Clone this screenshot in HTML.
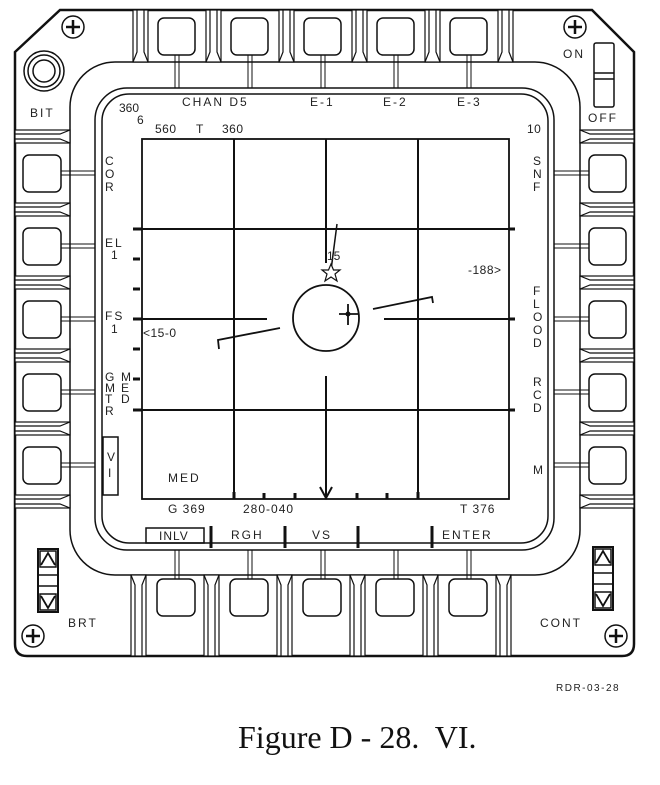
<!DOCTYPE html>
<html><head><meta charset="utf-8"><style>
html,body{margin:0;padding:0;background:#fff;}
svg{display:block;}
text{font-family:"Liberation Sans",sans-serif;fill:#222;}
.l{font-size:12px;letter-spacing:2px;}
</style></head><body>
<svg width="660" height="785" viewBox="0 0 660 785" xmlns="http://www.w3.org/2000/svg">
<g fill="none" stroke="#111" stroke-width="1.5">
<path d="M60 10 L592 10 L634 52 L634 644 Q634 656 622 656 L27 656 Q15 656 15 644 L15 52 Z" stroke-width="2.5"/>
<rect x="70" y="62" width="510" height="513" rx="45"/>
<rect x="95" y="88" width="459" height="462" rx="32"/>
<rect x="102" y="94" width="446" height="449" rx="27"/>
</g>
<g fill="#fff" stroke="#111" stroke-width="1.2">
<g id="vb">
<rect x="133" y="10" width="15" height="52"/>
<path d="M137 10 L137 52 L133 62 M144 10 L144 52 L148 62" fill="none"/>
</g>
<use href="#vb" x="73"/><use href="#vb" x="146"/><use href="#vb" x="219"/><use href="#vb" x="292"/><use href="#vb" x="365"/>
<g id="vbb">
<rect x="131" y="575" width="15" height="81"/>
<path d="M135 656 L135 585 L131 575 M142 656 L142 585 L146 575" fill="none"/>
</g>
<use href="#vbb" x="73"/><use href="#vbb" x="146"/><use href="#vbb" x="219"/><use href="#vbb" x="292"/><use href="#vbb" x="365"/>
<g id="hb">
<rect x="15" y="130" width="55" height="13"/>
<path d="M15 134 L60 134 L70 130 M15 139 L60 139 L70 143" fill="none"/>
</g>
<use href="#hb" y="73"/><use href="#hb" y="146"/><use href="#hb" y="219"/><use href="#hb" y="292"/><use href="#hb" y="365"/>
<g id="hr">
<rect x="580" y="130" width="54" height="13"/>
<path d="M634 134 L590 134 L580 130 M634 139 L590 139 L580 143" fill="none"/>
</g>
<use href="#hr" y="73"/><use href="#hr" y="146"/><use href="#hr" y="219"/><use href="#hr" y="292"/><use href="#hr" y="365"/>
</g>
<g fill="#fff" stroke="#111" stroke-width="1.5">
<g id="tb"><path d="M175 55 V88 M179 55 V88" fill="none" stroke-width="1"/><rect x="158" y="18" width="37" height="37" rx="6"/></g>
<use href="#tb" x="73"/><use href="#tb" x="146"/><use href="#tb" x="219"/><use href="#tb" x="292"/>
<g id="bb"><path d="M175 550 V579 M179 550 V579" fill="none" stroke-width="1"/><rect x="157" y="579" width="38" height="37" rx="6"/></g>
<use href="#bb" x="73"/><use href="#bb" x="146"/><use href="#bb" x="219"/><use href="#bb" x="292"/>
<g id="lb"><path d="M61 171 H95 M61 175 H95" fill="none" stroke-width="1"/><rect x="23" y="155" width="38" height="37" rx="6"/></g>
<use href="#lb" y="73"/><use href="#lb" y="146"/><use href="#lb" y="219"/><use href="#lb" y="292"/>
<g id="rb"><path d="M554 171 H589 M554 175 H589" fill="none" stroke-width="1"/><rect x="589" y="155" width="37" height="37" rx="6"/></g>
<use href="#rb" y="73"/><use href="#rb" y="146"/><use href="#rb" y="219"/><use href="#rb" y="292"/>
</g>
<g fill="none" stroke="#111" stroke-width="1.5">
<g id="sc"><circle cx="73" cy="27" r="11"/><path d="M66 27 H80 M73 20 V34" stroke-width="2.5"/></g>
<use href="#sc" x="502"/><use href="#sc" x="-40" y="609"/><use href="#sc" x="543" y="609"/>
<circle cx="44" cy="71" r="20"/><circle cx="44" cy="71" r="16"/><circle cx="44" cy="71" r="11"/>
<rect x="594" y="43" width="20" height="64" rx="2"/>
<path d="M594 73 H614 M594 79 H614"/>
<g id="rk">
<rect x="38" y="549" width="20" height="63" stroke-width="2"/>
<rect x="40" y="551" width="16" height="16"/>
<path d="M41 565 L48 553 L55 565" stroke-width="1.8"/>
<path d="M38 575 H58 M38 586 H58"/>
<rect x="40" y="594" width="16" height="16"/>
<path d="M41 596 L48 608 L55 596" stroke-width="1.8"/>
</g>
<use href="#rk" x="555" y="-2"/>
</g>
<g fill="none" stroke="#111" stroke-width="2">
<rect x="142" y="139" width="367" height="360" stroke-width="1.8"/>
<path d="M234 139 V499 M418 139 V499 M326 139 V263 M326 376 V497"/>
<path d="M142 229 H509 M142 410 H509 M142 319 H267 M384 319 H509"/>
<path d="M133 229 H142 M133 259 H140 M133 289 H140 M133 319 H142 M133 349 H140 M133 379 H140 M133 410 H142" stroke-width="3"/>
<path d="M509 229 H515 M509 319 H515 M509 410 H515" stroke-width="3"/>
<path d="M234 499 V492 M264 499 V493 M295 499 V493 M357 499 V493 M387 499 V493 M418 499 V492" stroke-width="3"/>
<path d="M320 487 L326 498 L332 487"/>
<circle cx="326" cy="318" r="33" stroke-width="1.8"/>
<path d="M339 314 H359 M348 304 V325" stroke-width="1.8"/>
<path d="M337 224 L330 278" stroke-width="1.5"/>
<path d="M280 328 L218 340 L219 349" stroke-width="1.8"/>
<path d="M373 309 L432 297 L433 303" stroke-width="1.8"/>
<path d="M331 264 L333.5 270 L340 270 L335 274 L337 281 L331 277 L325 281 L327 274 L322 270 L328.5 270 Z" stroke-width="1.2" fill="#fff"/>
<rect x="146" y="528" width="58" height="15" stroke-width="1.5"/>
<path d="M211 526 V548 M285 526 V548 M358 526 V548 M432 526 V548" stroke-width="3"/>
<rect x="103" y="437" width="15" height="58" stroke-width="1.5"/>
</g>
<circle cx="348" cy="314" r="2.5" fill="#111"/>
<g class="l">
<text x="30" y="117">BIT</text>
<text x="563" y="58">ON</text>
<text x="588" y="122">OFF</text>
<text x="68" y="627">BRT</text>
<text x="540" y="627">CONT</text>
<text x="182" y="106">CHAN D5</text>
<text x="310" y="106">E-1</text>
<text x="383" y="106">E-2</text>
<text x="457" y="106">E-3</text>
<text x="119" y="112" letter-spacing="0">360</text>
<text x="137" y="124">6</text>
<text x="155" y="133" letter-spacing="0.5">560</text>
<text x="196" y="133">T</text>
<text x="222" y="133" letter-spacing="0.5">360</text>
<text x="527" y="133" letter-spacing="0.5">10</text>
<text x="105" y="165">C</text><text x="105" y="178">O</text><text x="105" y="191">R</text>
<text x="105" y="247">EL</text><text x="111" y="259">1</text>
<text x="105" y="320">FS</text><text x="111" y="333">1</text>
<text x="105" y="381">G</text><text x="105" y="392">M</text><text x="105" y="403">T</text><text x="105" y="415">R</text>
<text x="121" y="381">M</text><text x="121" y="392">E</text><text x="121" y="403">D</text>
<text x="107" y="461">V</text><text x="108" y="477">I</text>
<text x="533" y="165">S</text><text x="533" y="178">N</text><text x="533" y="191">F</text>
<text x="533" y="295">F</text><text x="533" y="308">L</text><text x="533" y="321">O</text><text x="533" y="334">O</text><text x="533" y="347">D</text>
<text x="533" y="386">R</text><text x="533" y="399">C</text><text x="533" y="412">D</text>
<text x="533" y="474">M</text>
<text x="327" y="260" letter-spacing="0">15</text>
<text x="468" y="274" letter-spacing="0.5">-188&gt;</text>
<text x="143" y="337" letter-spacing="0.5">&lt;15-0</text>
<text x="168" y="482">MED</text>
<text x="168" y="513" letter-spacing="1">G 369</text>
<text x="243" y="513" letter-spacing="1">280-040</text>
<text x="460" y="513" letter-spacing="1">T 376</text>
<text x="159" y="540" letter-spacing="1">INLV</text>
<text x="231" y="539">RGH</text>
<text x="312" y="539">VS</text>
<text x="442" y="539">ENTER</text>
<text x="556" y="691" font-size="10" letter-spacing="1.5">RDR-03-28</text>
</g>
<text x="238" y="748" font-size="32" style="font-family:'Liberation Serif',serif;fill:#111;white-space:pre">Figure D - 28.&#160; VI.</text>
</svg>
</body></html>
